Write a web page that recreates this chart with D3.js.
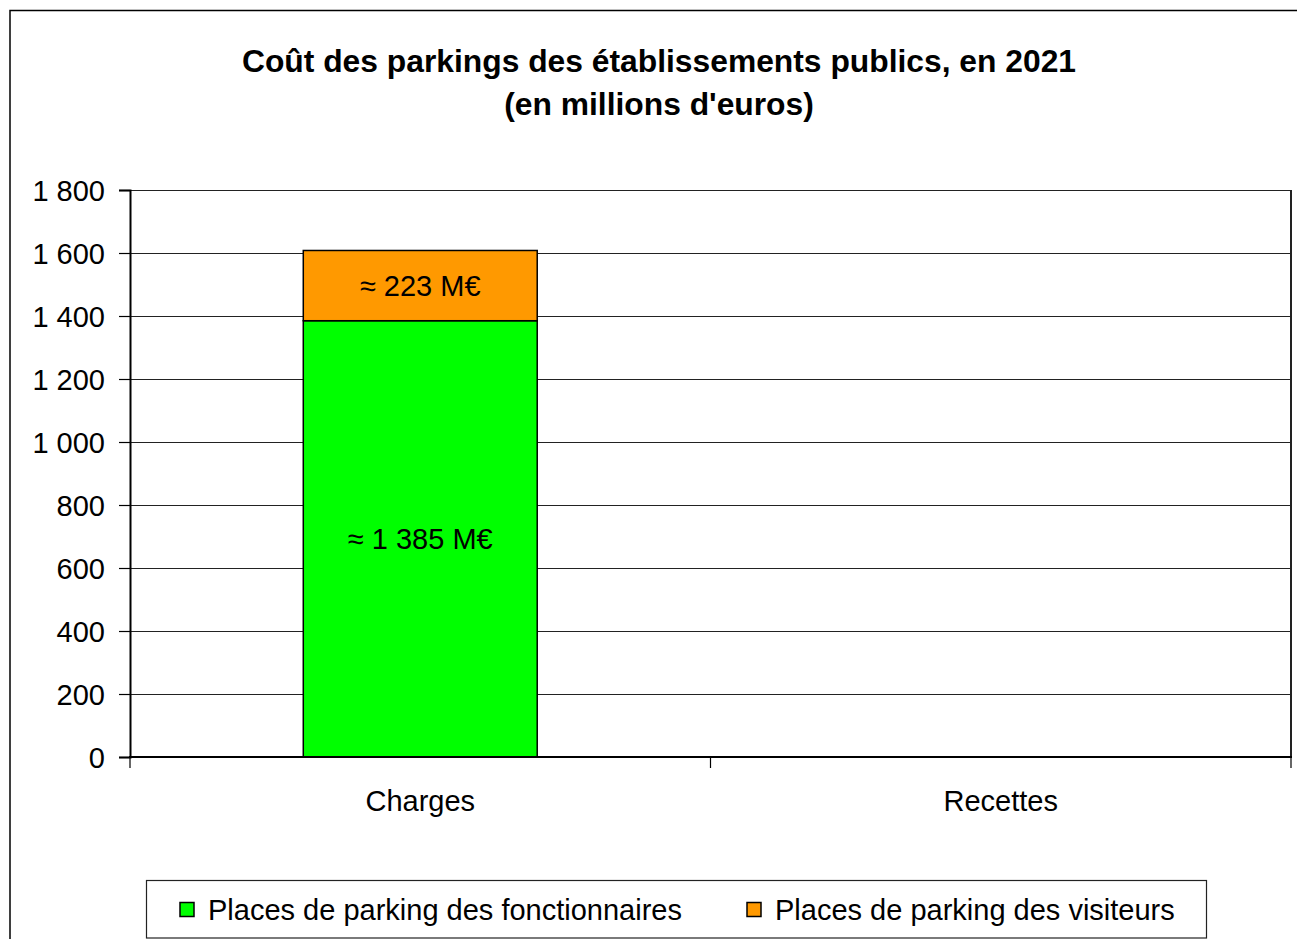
<!DOCTYPE html>
<html>
<head>
<meta charset="utf-8">
<script src="https://cdn.jsdelivr.net/npm/d3@7"></script>
<style>
  html, body { margin: 0; padding: 0; background: #fff; }
  svg { display: block; font-family: "Liberation Sans", Arial, Helvetica, sans-serif; }
</style>
</head>
<body>
<svg id="chart" width="1297" height="939"></svg>
<script>
// ---- Data ----
const titleLines = ["Coût des parkings des établissements publics, en 2021", "(en millions d'euros)"];
const categories = ["Charges", "Recettes"];
const seriesNames = ["Places de parking des fonctionnaires", "Places de parking des visiteurs"];
const fonctionnaires = [1385, 0];
const visiteurs = [223, 0];
const seriesColors = ["#00FF00", "#FF9900"];
const yTicks = [0, 200, 400, 600, 800, 1000, 1200, 1400, 1600, 1800];

// ---- Layout ----
const svg = d3.select("#chart");
const plot = { left: 130, right: 1291, top: 190, bottom: 757 };
const fs = 29;

const locale = d3.formatLocale({ decimal: ",", thousands: " ", grouping: [3], currency: ["", " €"] });
const fmt = locale.format(",d");

// outer border
svg.append("rect").attr("x", 10).attr("y", 10.5).attr("width", 1400).attr("height", 1000)
  .attr("fill", "#fff").attr("stroke", "#000").attr("stroke-width", 1.5);

// title
const title = svg.append("text").attr("text-anchor", "middle").attr("font-weight", "bold")
  .attr("font-size", 31.8).attr("fill", "#000");
titleLines.forEach((t, i) => {
  title.append("tspan").attr("x", 659).attr("y", 72 + i * 43).text(t);
});

const y = d3.scaleLinear().domain([0, 1800]).range([plot.bottom, plot.top]);
const x = d3.scaleBand().domain(categories).range([plot.left, plot.right]).padding(0);

// gridlines
svg.append("g").selectAll("line").data(yTicks.filter(d => d > 0)).join("line")
  .attr("x1", plot.left).attr("x2", plot.right)
  .attr("y1", d => Math.round(y(d)) + 0.5).attr("y2", d => Math.round(y(d)) + 0.5)
  .attr("stroke", "#222").attr("stroke-width", 1.2);

// plot border right
svg.append("line").attr("x1", plot.right).attr("x2", plot.right).attr("y1", plot.top).attr("y2", plot.bottom)
  .attr("stroke", "#222").attr("stroke-width", 2);

// y axis
const yAxis = d3.axisLeft(y).tickValues(yTicks).tickSize(11).tickPadding(14).tickFormat(d => fmt(d));
const gy = svg.append("g").attr("transform", `translate(${plot.left},0)`).call(yAxis);
gy.select(".domain").attr("stroke", "#000").attr("stroke-width", 2);
gy.selectAll(".tick line").attr("stroke", "#000").attr("stroke-width", 1.2);
gy.selectAll(".tick text").attr("font-size", fs).attr("font-family", "Liberation Sans, Arial, sans-serif")
  .attr("fill", "#000").attr("dy", "0.36em");

// stacked bars
const table = categories.map((c, i) => ({ cat: c, f: fonctionnaires[i], v: visiteurs[i] }));
const stack = d3.stack().keys(["f", "v"])(table);
const barW = x.bandwidth() * 0.403;
stack.forEach((layer, li) => {
  const g = svg.append("g");
  layer.forEach(seg => {
    const val = seg[1] - seg[0];
    if (val <= 0) return;
    const cx = x(seg.data.cat) + x.bandwidth() / 2;
    g.append("rect")
      .attr("x", cx - barW / 2).attr("width", barW)
      .attr("y", y(seg[1])).attr("height", y(seg[0]) - y(seg[1]))
      .attr("fill", seriesColors[li]).attr("stroke", "#000").attr("stroke-width", 1.5);
    g.append("text").attr("x", cx).attr("y", (y(seg[0]) + y(seg[1])) / 2 + 0.36 * fs)
      .attr("text-anchor", "middle").attr("font-size", fs).attr("fill", "#000")
      .text("≈ " + fmt(val) + " M€");
  });
});

// x axis (drawn on top)
const xAxisLine = svg.append("g");
xAxisLine.append("line").attr("x1", plot.left - 1).attr("x2", plot.right + 1)
  .attr("y1", plot.bottom).attr("y2", plot.bottom).attr("stroke", "#000").attr("stroke-width", 2);
const xTickPos = [plot.left, ...categories.map(c => x(c) + x.bandwidth())];
xAxisLine.selectAll(".xt").data(xTickPos).join("line")
  .attr("x1", d => d).attr("x2", d => d).attr("y1", plot.bottom).attr("y2", plot.bottom + 11)
  .attr("stroke", "#000").attr("stroke-width", 1.2);
xAxisLine.selectAll(".xl").data(categories).join("text")
  .attr("x", d => x(d) + x.bandwidth() / 2).attr("y", 811)
  .attr("text-anchor", "middle").attr("font-size", fs).attr("fill", "#000").text(d => d);

// legend
const lg = svg.append("g");
lg.append("rect").attr("x", 146.5).attr("y", 880.5).attr("width", 1060).attr("height", 57.5)
  .attr("fill", "#fff").attr("stroke", "#222").attr("stroke-width", 1.2);
const legendX = [180, 747];
seriesNames.forEach((n, i) => {
  lg.append("rect").attr("x", legendX[i]).attr("y", 902.5).attr("width", 14).attr("height", 14)
    .attr("fill", seriesColors[i]).attr("stroke", "#000").attr("stroke-width", 1.5);
  lg.append("text").attr("x", legendX[i] + 28).attr("y", 920).attr("font-size", fs).attr("fill", "#000").text(n);
});
</script>
</body>
</html>
